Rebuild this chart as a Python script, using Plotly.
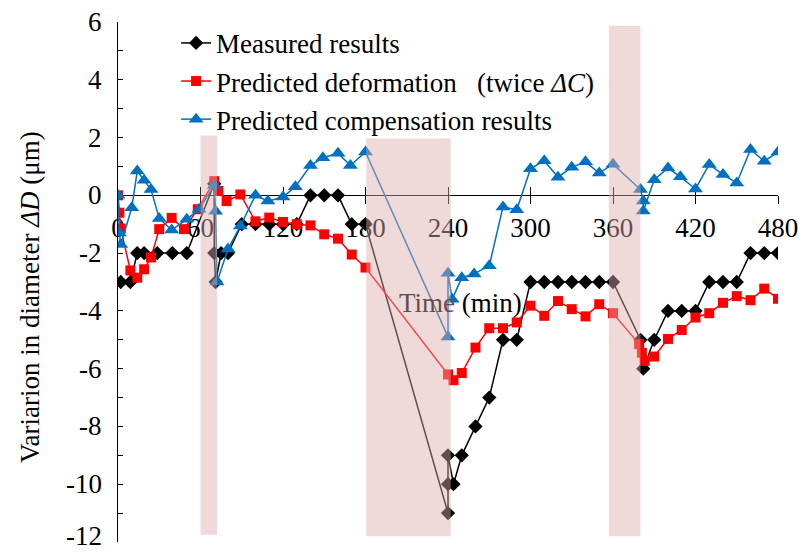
import plotly.graph_objects as go

# ---------------- data ----------------
measured_t = [2, 9, 14, 19, 28.5, 39.5, 50,
              70, 70, 71, 75, 80,
              90, 100, 110, 120, 130, 140, 150, 160, 170, 180,
              240, 240, 240, 244, 250,
              260, 270, 280, 290,
              300, 310, 320, 330, 340, 350, 360,
              380, 382, 390,
              400, 410, 420, 430, 440, 450, 460, 470, 480]
measured_v = [-3, -3, -2, -2, -2, -2, -2,
              0.4, -2, -3, -2, -2,
              -1, -1, -1, -1, -1, 0, 0, 0, -1, -1,
              -11, -10, -9, -10, -9,
              -8, -7, -5, -5,
              -3, -3, -3, -3, -3, -3, -3,
              -5, -6, -5,
              -4, -4, -4, -3, -3, -3, -2, -2, -2]

deform_t = [0, 1, 2, 9, 14, 19, 24, 30, 39, 48, 58,
            70, 73, 79, 89,
            100, 110, 120, 130, 140, 150, 160, 170, 180,
            240, 244, 250,
            260, 270, 280, 290, 300, 310, 320, 330, 340, 350, 360,
            379, 381, 383, 390,
            400, 410, 420, 430, 440, 450, 460, 470, 480]
deform_v = [0, -0.6, -1.15, -2.6, -2.85, -2.56, -2.15, -1.17, -0.78, -1.17, -0.48,
            0.49, 0.15, -0.2, 0.03,
            -0.9, -0.77, -0.92, -1.0, -1.04, -1.35, -1.5, -2.05, -2.5,
            -6.2, -6.4, -6.15,
            -5.27, -4.6, -4.6, -4.4, -3.82, -4.17, -3.66, -3.94, -4.19, -3.77, -4.08,
            -5.15, -5.45, -5.73, -5.58,
            -4.97, -4.66, -4.23, -4.08, -3.72, -3.49, -3.63, -3.23, -3.58]

comp_t = [0, 1, 2, 10, 14, 19, 24, 30, 39, 50, 59,
          70, 71, 72,
          80, 89, 100, 109, 120, 129, 140, 149, 160, 169, 180,
          240, 240, 243, 250, 259, 270, 280, 290,
          300, 310, 320, 330, 340, 350, 360,
          380, 382, 382, 390,
          400, 409, 420, 430, 440, 450, 460, 470, 480]
comp_v = [0, -1.3, -1.7, -0.43, 0.84, 0.52, 0.2, -0.8, -1.2, -0.83, -0.48,
          0.35, -0.55, -3.0,
          -1.86, -1.06, 0, -0.2, -0.06, 0.3, 1.03, 1.3, 1.46, 1.03, 1.5,
          -4.9, -2.7, -3.6, -2.85, -2.72, -2.44, -0.4, -0.5,
          0.92, 1.2, 0.63, 0.97, 1.16, 0.77, 1.08,
          0.2, -0.2, -0.54, 0.54,
          0.95, 0.64, 0.22, 1.07, 0.72, 0.43, 1.59, 1.18, 1.5]

# pause periods (shaded): start, end, low, high
pause_start = [60, 180.5, 357]
pause_end = [72, 242, 380]
pause_low = [-11.75, -11.8, -11.8]
pause_high = [2.07, 1.97, 5.87]

x_ticks = [0, 60, 120, 180, 240, 300, 360, 420, 480]
y_ticks = [6, 4, 2, 0, -2, -4, -6, -8, -10, -12]
y_ticktext = ["6", "4", "2", "0", "-2", "-4", "-6", "-8", "-10", "-12"]
y_minor = list(range(-12, 7))

SHADE_TXT = "rgb(100,77,77)"
FONT = "Liberation Serif"
FS = 27

fig = go.Figure()
fig.add_trace(go.Scatter(x=measured_t, y=measured_v, mode="lines+markers",
                         name="Measured results", legendgroup="a",
                         line=dict(color="black", width=1.5),
                         marker=dict(symbol="diamond", size=11, color="black")))
fig.add_trace(go.Scatter(x=deform_t, y=deform_v, mode="lines+markers",
                         name="Predicted deformation\u00a0\u00a0\u00a0(twice <i>ΔC</i>)",
                         legendgroup="b",
                         line=dict(color="#ff0000", width=1.5),
                         marker=dict(symbol="square", size=10, color="#ff0000")))
fig.add_trace(go.Scatter(x=comp_t, y=comp_v, mode="lines+markers",
                         name="Predicted compensation results", legendgroup="c",
                         line=dict(color="#0070c0", width=1.5),
                         marker=dict(symbol="triangle-up", size=13, color="#0070c0")))
# empty trace that activates the overlaid axis carrying the upward tick marks
fig.add_trace(go.Scatter(x=[], y=[], xaxis="x2", showlegend=False, hoverinfo="skip"))

for a, b, lo, hi in zip(pause_start, pause_end, pause_low, pause_high):
    fig.add_shape(type="rect", xref="x", yref="y", x0=a, x1=b, y0=lo, y1=hi,
                  fillcolor="rgb(222,171,171)", opacity=0.45, line=dict(width=0),
                  layer="above")

annotations = []
# y tick labels, left of the axis (the lowest one is kept inside the page)
for v, txt in zip(y_ticks, y_ticktext):
    last = v == y_ticks[-1]
    annotations.append(dict(text=txt, x=0, xref="paper", y=v, yref="y",
                            xanchor="right",
                            yanchor="bottom" if last else "middle",
                            xshift=-14, yshift=-11 if last else 0,
                            showarrow=False, font=dict(family=FONT, size=FS)))
annotations += [
    dict(text="Variarion in diameter <i>ΔD</i> (μm)", textangle=-90,
         xref="paper", yref="paper", x=(30 - 118) / 660,
         y=(542 - 297) / 520, xanchor="center", yanchor="middle",
         showarrow=False, font=dict(family=FONT, size=FS)),
    dict(text=f"<span style='color:{SHADE_TXT}'>Time</span> (min)",
         xref="paper", yref="paper", x=(460 - 118) / 660,
         y=(542 - 303) / 520, xanchor="center", yanchor="middle",
         showarrow=False, font=dict(family=FONT, size=FS)),
]

zero_pos = 12 / 18
fig.update_layout(
    width=803, height=553,
    margin=dict(l=118, r=25, t=22, b=11),
    paper_bgcolor="white", plot_bgcolor="white",
    font=dict(family=FONT, size=FS, color="black"),
    showlegend=True,
    legend=dict(x=0.088, y=1.006, xanchor="left", yanchor="top",
                bgcolor="rgba(0,0,0,0)", font=dict(family=FONT, size=FS),
                tracegroupgap=0, traceorder="grouped", itemwidth=30),
    xaxis=dict(range=[0, 480], anchor="free", position=zero_pos,
               showline=True, linecolor="black", linewidth=1,
               ticks="outside", ticklen=8, tickcolor="black", tickwidth=1,
               tickmode="array", tickvals=x_ticks,
               ticktext=[str(v) for v in x_ticks],
               tickfont=dict(family=FONT, size=FS, color="black"),
               ticklabelstandoff=0, ticklabeloverflow="allow",
               showgrid=False, zeroline=False, layer="below traces",
               automargin=False),
    xaxis2=dict(range=[0, 480], overlaying="x", anchor="free", position=zero_pos,
                side="bottom", showline=False,
                ticks="inside", ticklen=8, tickcolor="black", tickwidth=1,
                tickmode="array", tickvals=x_ticks, showticklabels=False,
                showgrid=False, zeroline=False, layer="below traces",
                automargin=False),
    yaxis=dict(range=[-12, 6], showline=True, linecolor="black", linewidth=1,
               ticks="inside", ticklen=5, tickcolor="black",
               tickmode="array", tickvals=y_ticks, showticklabels=False,
               minor=dict(tickmode="array", tickvals=y_minor, ticks="inside",
                          ticklen=5, tickcolor="black"),
               showgrid=False, zeroline=False, layer="below traces",
               automargin=False),
    annotations=annotations,
)

fig.write_html("out.html")
